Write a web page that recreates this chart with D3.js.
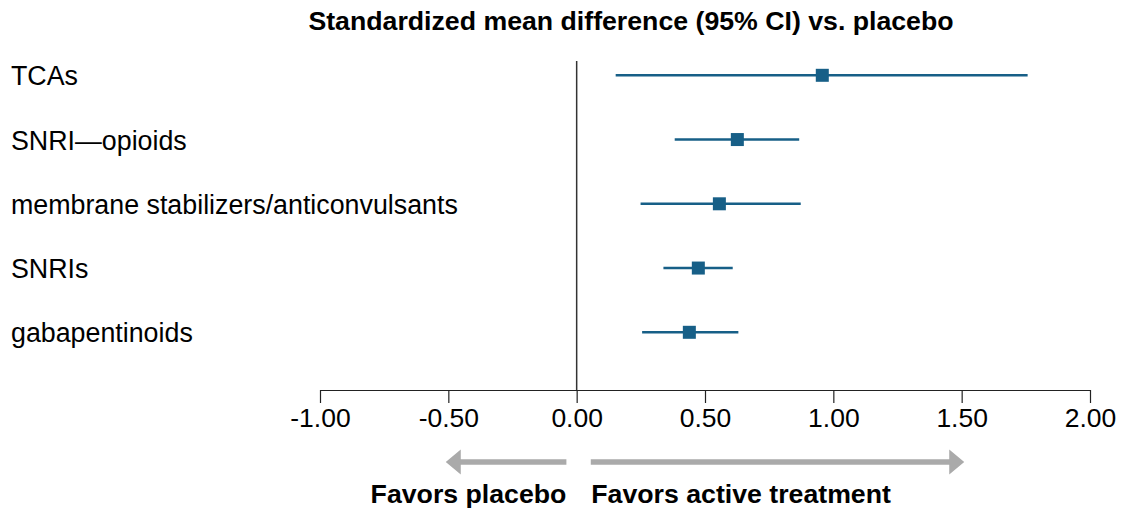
<!DOCTYPE html>
<html>
<head>
<meta charset="utf-8">
<script src="https://cdn.jsdelivr.net/npm/d3@7"></script>
<style>
  html, body { margin: 0; padding: 0; background: #fff; }
  svg { display: block; font-family: "Liberation Sans", Arial, Helvetica, sans-serif; }
</style>
</head>
<body>
<div id="chart"></div>
<script>
// forest plot data
const categories = ["TCAs", "SNRI\u2014opioids", "membrane stabilizers/anticonvulsants", "SNRIs", "gabapentinoids"];
const means = [0.957, 0.626, 0.556, 0.474, 0.439];
const lower = [0.152, 0.382, 0.249, 0.338, 0.255];
const upper = [1.757, 0.867, 0.873, 0.608, 0.630];
const tickValues = [-1, -0.5, 0, 0.5, 1, 1.5, 2];
const arrowLabels = ["Favors placebo", "Favors active treatment"];
const arrowFrom = [-0.04, 0.055];
const arrowTo = [-0.51, 1.51];

const width = 1122,
  height = 510;

const svg = d3.select("#chart").append("svg")
  .attr("width", width)
  .attr("height", height);

const x = d3.scaleLinear().domain([-1, 2]).range([320, 1090]);
const y = d3.scalePoint().domain(categories).range([75.3, 332.3]);
const axisY = 390;
const blue = "#175f87";

const rows = categories.map((c, i) => ({ cat: c, mean: means[i], lo: lower[i], hi: upper[i] }));

/* title */
svg.append("text")
  .attr("x", 631)
  .attr("y", 29.5)
  .attr("text-anchor", "middle")
  .style("font-size", "26.7px")
  .style("font-weight", "bold")
  .style("fill", "#000")
  .text("Standardized mean difference (95% CI) vs. placebo");

/* category labels */
svg.append("g")
  .selectAll("text")
  .data(rows)
  .enter().append("text")
  .attr("x", 11)
  .attr("y", (d) => y(d.cat) + 10)
  .style("font-size", "26.8px")
  .style("fill", "#000")
  .text((d) => d.cat);

/* zero line */
svg.append("line")
  .attr("x1", x(0)).attr("x2", x(0))
  .attr("y1", 61).attr("y2", axisY)
  .attr("stroke", "#333")
  .attr("stroke-width", 1.5);

/* x axis */
const axis = d3.axisBottom(x)
  .tickValues(tickValues)
  .tickSize(13)
  .tickSizeOuter(0)
  .tickPadding(5)
  .tickFormat((d) => d.toFixed(2));

const gAxis = svg.append("g")
  .attr("transform", `translate(0,${axisY})`)
  .call(axis);
gAxis.select(".domain").attr("stroke", "#222").attr("stroke-width", 1.2);
gAxis.selectAll(".tick line").attr("stroke", "#222").attr("stroke-width", 1.2);
gAxis.selectAll(".tick text")
  .style("font-size", "26.5px")
  .style("font-family", "\"Liberation Sans\", Arial, Helvetica, sans-serif")
  .style("fill", "#000");

/* confidence intervals */
svg.append("g")
  .selectAll("line")
  .data(rows)
  .enter().append("line")
  .attr("x1", (d) => x(d.lo))
  .attr("x2", (d) => x(d.hi))
  .attr("y1", (d) => y(d.cat))
  .attr("y2", (d) => y(d.cat))
  .attr("stroke", blue)
  .attr("stroke-width", 2.6);

/* point estimates */
const sq = 13;
svg.append("g")
  .selectAll("rect")
  .data(rows)
  .enter().append("rect")
  .attr("x", (d) => x(d.mean) - sq / 2)
  .attr("y", (d) => y(d.cat) - sq / 2)
  .attr("width", sq)
  .attr("height", sq)
  .attr("fill", blue);

/* favors arrows */
const arrowY = 462;
const headLen = 15, headHalf = 12.5, shaft = 5.5;
const arrows = arrowLabels.map((l, i) => ({ label: l, from: arrowFrom[i], to: arrowTo[i] }));

svg.append("g")
  .selectAll("path")
  .data(arrows)
  .enter().append("path")
  .attr("fill", "#aaaaaa")
  .attr("d", (d) => {
    const x0 = x(d.from), x1 = x(d.to);
    const dir = x1 > x0 ? 1 : -1;
    const xb = x1 - dir * headLen;
    return `M${x0},${arrowY - shaft / 2}L${xb},${arrowY - shaft / 2}L${xb},${arrowY - headHalf}` +
      `L${x1},${arrowY}L${xb},${arrowY + headHalf}L${xb},${arrowY + shaft / 2}L${x0},${arrowY + shaft / 2}Z`;
  });

svg.append("g")
  .selectAll("text")
  .data(arrows)
  .enter().append("text")
  .attr("x", (d) => d.to < d.from ? x(d.from) : x(d.from) + 0.5)
  .attr("y", 503)
  .attr("text-anchor", (d) => d.to < d.from ? "end" : "start")
  .style("font-size", "26.7px")
  .style("font-weight", "bold")
  .style("fill", "#000")
  .text((d) => d.label);
</script>
</body>
</html>
